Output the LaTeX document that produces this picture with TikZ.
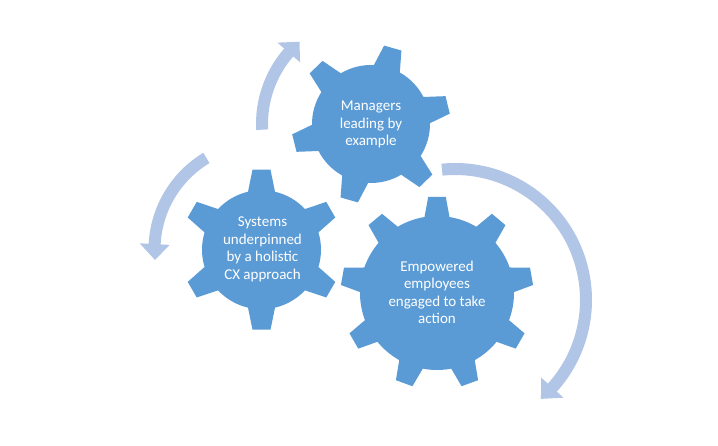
\documentclass[tikz,border=0pt]{standalone}
\usepackage{fontspec}
\setmainfont{Carlito}
\definecolor{gearblue}{HTML}{5B9BD5}
\definecolor{arrowblue}{HTML}{B1C5E6}
\newcommand{\mygear}[5]{% n, R, r, base half width, tip half width
  \pgfmathsetmacro{\gstep}{360/#1}%
  \pgfmathsetmacro{\gbeta}{asin(#4/#3)}%
  \pgfmathsetmacro{\gdelta}{atan(#5/#2)}%
  \pgfmathsetmacro{\grho}{sqrt(#2*#2+#5*#5)}%
  \pgfmathtruncatemacro{\glast}{#1-1}%
  \fill[gearblue] (-\gbeta:#3pt)
    \foreach \k in {0,...,\glast}{
      -- ({\k*\gstep-\gdelta}:\grho pt) -- ({\k*\gstep+\gdelta}:\grho pt)
      -- ({\k*\gstep+\gbeta}:#3pt)
      arc[start angle={\k*\gstep+\gbeta}, end angle={(\k+1)*\gstep-\gbeta}, radius=#3pt]
    } -- cycle;
}
\newcommand{\circarrow}[4]{% rmid, start, shaft end, tip
  \pgfmathsetmacro{\caOut}{#1+6}%
  \pgfmathsetmacro{\caIn}{#1-6}%
  \pgfmathsetmacro{\caHOut}{#1+15}%
  \pgfmathsetmacro{\caHIn}{#1-15}%
  \fill[arrowblue] (#2:\caOut pt) arc[start angle=#2, end angle=#3, radius=\caOut pt]
    -- (#3:\caHOut pt) -- (#4:#1pt) -- (#3:\caHIn pt) -- (#3:\caIn pt)
    arc[start angle=#3, end angle=#2, radius=\caIn pt] -- cycle;
}
\tikzset{gtext/.style={text=white, align=center, inner sep=0pt,
  font=\fontsize{15}{17.5}\selectfont}}
\begin{document}
\begin{tikzpicture}[x=1pt,y=1pt]
\useasboundingbox (0,0) rectangle (718,446);
\fill[white] (0,0) rectangle (718,446);
% circular arrows
\begin{scope}[shift={(455,146)}]
  \circarrow{131}{95.7}{-42}{-49}
\end{scope}
\begin{scope}[shift={(371,322)}]
  \circarrow{109}{183}{139}{131}
\end{scope}
\begin{scope}[shift={(261.5,196.3)}]
  \circarrow{107}{121}{177}{185.5}
\end{scope}
% gears
\begin{scope}[shift={(371,322)}, rotate=14]
  \mygear{6}{79}{59}{13.5}{9}
\end{scope}
\begin{scope}[shift={(261.5,196.3)}, rotate=90]
  \mygear{6}{80}{59.5}{13.5}{9}
\end{scope}
\begin{scope}[shift={(437,153)}, rotate=90]
  \mygear{9}{96}{77}{12.5}{8.8}
\end{scope}
% labels
\node[gtext] (managers) at (371,321.5) {Managers\\leading by\\example};
\node[gtext] (systems) at (262.5,196.5) {Systems\\underpinned\\by a holistic\\CX approach};
\node[gtext] (empowered) at (437,153.5) {Empowered\\employees\\engaged to take\\action};
\end{tikzpicture}
\end{document}
